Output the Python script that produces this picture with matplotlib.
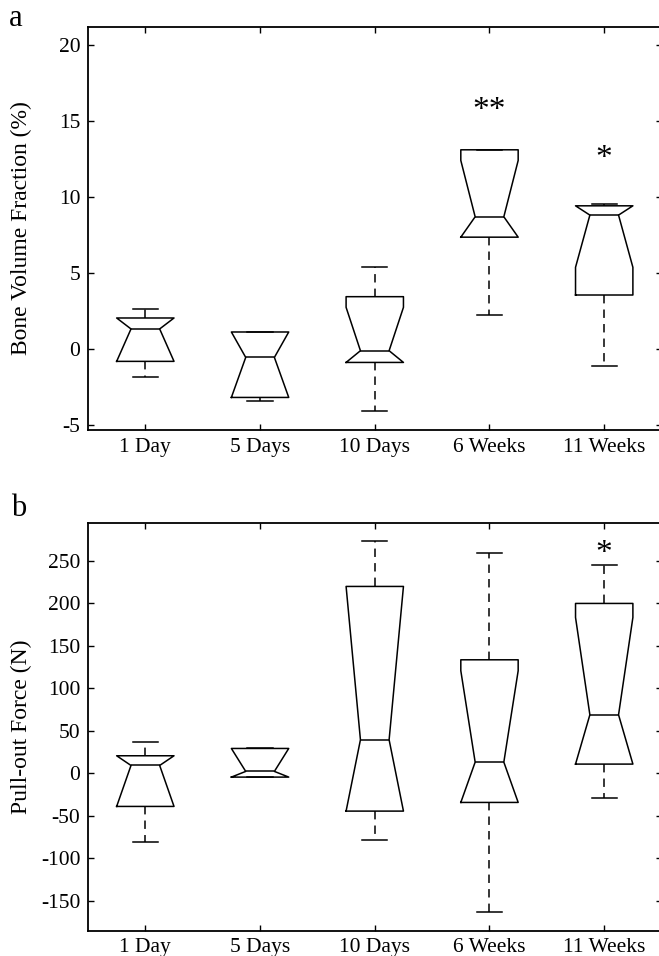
import matplotlib
matplotlib.use("Agg")
import matplotlib.pyplot as plt

plt.rcParams.update({
    "font.family": ["Liberation Serif", "DejaVu Serif"],
    "font.size": 15.5,
    "axes.labelsize": 17,
    "axes.unicode_minus": False,
    "axes.linewidth": 1.3,
})

categories = ["1 Day", "5 Days", "10 Days", "6 Weeks", "11 Weeks"]

# panel a: bone volume fraction (%)
bv_whislo = [-1.84, -3.42, -4.04, 2.28, -1.07]
bv_q1 = [-0.79, -3.16, -0.86, 7.37, 3.57]
bv_med = [1.34, -0.53, -0.09, 8.71, 8.82]
bv_q3 = [2.06, 1.14, 3.46, 13.11, 9.43]
bv_whishi = [2.63, 1.14, 5.44, 13.11, 9.56]
bv_cilo = [-0.79, -3.16, -0.86, 7.37, 5.39]
bv_cihi = [2.06, 1.14, 2.76, 12.41, 9.43]
bv_stars = ["", "", "", "**", "*"]
bv_star_y = [0, 0, 0, 16.0, 12.9]
bv_yticks = [-5, 0, 5, 10, 15, 20]

# panel b: pull-out force (N)
pf_whislo = [-80.4, -4.3, -78.4, -163.5, -28.6]
pf_q1 = [-38.8, -4.3, -44.3, -34.1, 11.0]
pf_med = [9.4, 2.4, 39.6, 13.3, 69.0]
pf_q3 = [20.8, 29.4, 220.0, 133.7, 200.0]
pf_whishi = [36.5, 29.4, 273.3, 259.6, 245.5]
pf_cilo = [-38.8, -4.3, -44.3, -34.1, 11.0]
pf_cihi = [20.8, 29.4, 220.0, 120.8, 183.5]
pf_stars = ["", "", "", "", "*"]
pf_star_y = [0, 0, 0, 0, 264.0]
pf_yticks = [-150, -100, -50, 0, 50, 100, 150, 200, 250]


def make_stats(whislo, q1, med, q3, whishi, cilo, cihi):
    return [
        {"whislo": a, "q1": b, "med": c, "q3": d, "whishi": e,
         "cilo": f, "cihi": g, "fliers": []}
        for a, b, c, d, e, f, g in zip(whislo, q1, med, q3, whishi, cilo, cihi)
    ]


def draw_panel(ax, stats, stars, star_y, yticks, ylim, ylabel, star_off):
    pos = list(range(1, len(categories) + 1))
    line = dict(color="black", linewidth=1.1)
    ax.bxp(
        stats, positions=pos, widths=0.5, capwidths=0.22, shownotches=True,
        showfliers=False, boxprops=line, medianprops=line, capprops=line,
        whiskerprops=dict(color="black", linewidth=1.1, linestyle=(0, (5.5, 4))),
    )
    for p, s, y in zip(pos, stars, star_y):
        if s:
            ax.text(p, y - star_off, s, ha="center", va="center", fontsize=24)
    ax.set_xlim(0.5, 5.5)
    ax.set_ylim(*ylim)
    ax.set_xticks(pos)
    ax.set_xticklabels(categories)
    ax.set_yticks(yticks)
    ax.tick_params(direction="in", length=4.3, width=1.0, top=True, right=True, pad=5.5)
    ax.set_ylabel(ylabel)
    ax.yaxis.set_label_coords(-0.098, 0.5)


fig = plt.figure(figsize=(6.59, 9.56), dpi=100)
ax_a = fig.add_axes([0.1335, 0.5502, 0.8704, 0.4219])
ax_b = fig.add_axes([0.1335, 0.02646, 0.8704, 0.4268])

draw_panel(ax_a, make_stats(bv_whislo, bv_q1, bv_med, bv_q3, bv_whishi, bv_cilo, bv_cihi),
           bv_stars, bv_star_y, bv_yticks, (-5.3, 21.2), "Bone Volume Fraction (%)", 0.35)
draw_panel(ax_b, make_stats(pf_whislo, pf_q1, pf_med, pf_q3, pf_whishi, pf_cilo, pf_cihi),
           pf_stars, pf_star_y, pf_yticks, (-185, 295), "Pull-out Force (N)", 6)

fig.text(16 / 659, 1 - 18 / 956, "a", fontsize=22, ha="center", va="center")
fig.text(19 / 659, 1 - 508 / 956, "b", fontsize=22, ha="center", va="center")

fig.savefig("out.png", dpi=100)
